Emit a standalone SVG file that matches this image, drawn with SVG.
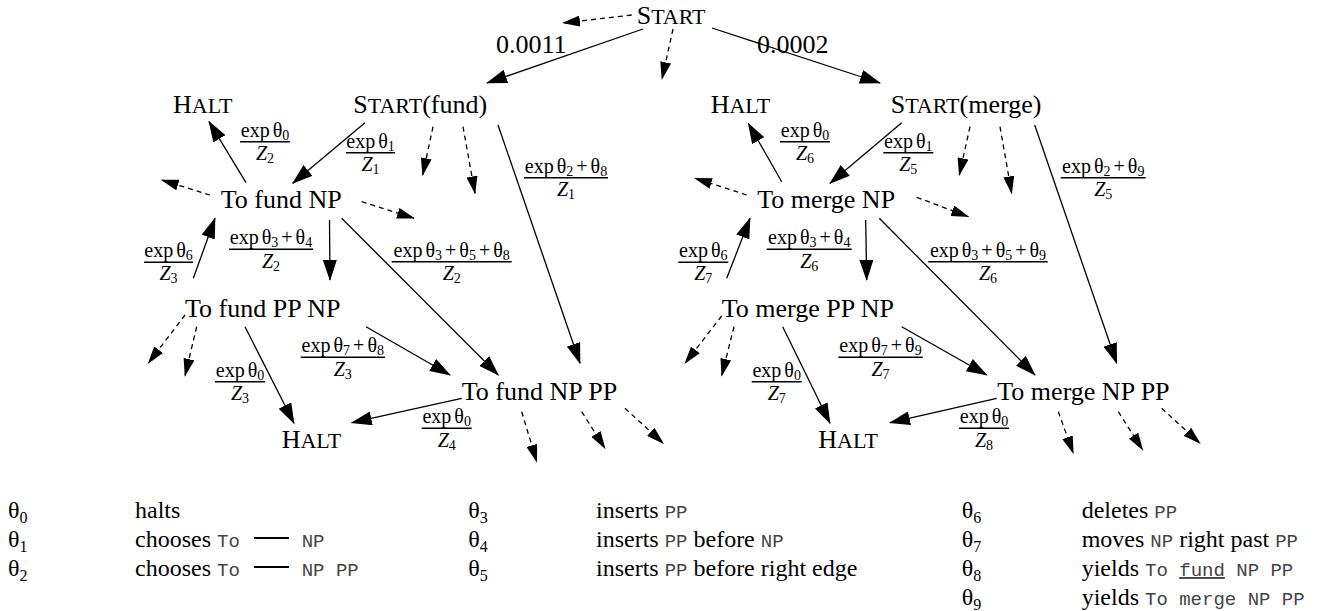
<svg xmlns="http://www.w3.org/2000/svg" width="1333" height="611" viewBox="0 0 1333 611">
<style>
text { font-family: "Liberation Serif", "Times New Roman", serif; fill: #000; }
.n { font-size: 26px; }
.sc { font-size: 22px; }
.f { font-size: 20px; text-anchor: middle; }
.s { font-size: 14px; }
.it { font-style: italic; }
.lg { font-size: 24px; }
.ls { font-size: 16px; }
.m { font-family: "Liberation Mono", "Courier New", monospace; font-size: 19px; fill: #444; }
.e { stroke: #000; stroke-width: 1.3; fill: none; marker-end: url(#ah); }
.d { stroke: #000; stroke-width: 1.3; fill: none; stroke-dasharray: 5 4; marker-end: url(#dh); }
.bar { stroke: #000; stroke-width: 1.6; }
</style>
<defs>
<marker id="ah" viewBox="0 0 21 14" markerWidth="21" markerHeight="14" refX="20" refY="7" orient="auto" markerUnits="userSpaceOnUse">
<path d="M0,0 L21,7 L0,14 z" fill="#000"/>
</marker>
<marker id="dh" viewBox="0 0 18 11" markerWidth="18" markerHeight="11" refX="17" refY="5.5" orient="auto" markerUnits="userSpaceOnUse">
<path d="M0,0 L18,5.5 L0,11 z" fill="#000"/>
</marker>
</defs>
<rect width="1333" height="611" fill="#fff"/>

<g id="connectors">
<line class="d" x1="631.7" y1="15" x2="563" y2="23"/>
<line class="e" x1="643" y1="29" x2="487" y2="83"/>
<line class="d" x1="673" y1="29" x2="662" y2="79"/>
<line class="e" x1="712" y1="28" x2="880" y2="83"/>
<line class="e" x1="246" y1="182.7" x2="209" y2="121.7"/>
<line class="e" x1="365" y1="122.7" x2="292.7" y2="183.3"/>
<line class="d" x1="433" y1="126.7" x2="422.7" y2="175"/>
<line class="d" x1="463" y1="126.7" x2="475" y2="193.3"/>
<line class="e" x1="498" y1="125" x2="580" y2="363.3"/>
<line class="d" x1="210" y1="195" x2="161.7" y2="180"/>
<line class="d" x1="361.7" y1="201.7" x2="414" y2="218.3"/>
<line class="e" x1="329.5" y1="220" x2="330" y2="280"/>
<line class="e" x1="341.7" y1="218.3" x2="498.3" y2="375"/>
<line class="e" x1="193.3" y1="278.3" x2="215" y2="218.3"/>
<line class="d" x1="185" y1="315" x2="148.3" y2="363.3"/>
<line class="d" x1="196.7" y1="326.7" x2="185" y2="375.7"/>
<line class="e" x1="245" y1="326.7" x2="294" y2="423.3"/>
<line class="e" x1="366" y1="326.7" x2="450" y2="375"/>
<line class="e" x1="461.7" y1="398.3" x2="351.7" y2="422.7"/>
<line class="d" x1="521.7" y1="411.7" x2="536.7" y2="461.7"/>
<line class="d" x1="581.7" y1="411.7" x2="605" y2="448.3"/>
<line class="d" x1="625" y1="408.3" x2="663.3" y2="443.3"/>
<line class="e" x1="781.7" y1="181.7" x2="748.3" y2="123.3"/>
<line class="e" x1="901.7" y1="122.7" x2="830" y2="183.3"/>
<line class="d" x1="970" y1="126.7" x2="959.3" y2="175"/>
<line class="d" x1="1000" y1="126.7" x2="1011.7" y2="193.3"/>
<line class="e" x1="1034.7" y1="125" x2="1116.7" y2="363.3"/>
<line class="d" x1="746.7" y1="195" x2="695" y2="178.3"/>
<line class="d" x1="916.7" y1="197.3" x2="968.3" y2="216.7"/>
<line class="e" x1="865.7" y1="220" x2="866.7" y2="280"/>
<line class="e" x1="879.3" y1="218.3" x2="1035" y2="375"/>
<line class="e" x1="726.7" y1="278.3" x2="750" y2="218.3"/>
<line class="d" x1="721.7" y1="316" x2="685" y2="363.3"/>
<line class="d" x1="734" y1="326.7" x2="721.7" y2="375.7"/>
<line class="e" x1="782.7" y1="326.7" x2="830" y2="423.3"/>
<line class="e" x1="901.7" y1="326.7" x2="986.7" y2="375"/>
<line class="e" x1="996.7" y1="398.3" x2="890" y2="422.7"/>
<line class="d" x1="1058.3" y1="411.7" x2="1073.3" y2="453.3"/>
<line class="d" x1="1118.3" y1="411.7" x2="1142.7" y2="450"/>
<line class="d" x1="1161.7" y1="408.3" x2="1200" y2="443.3"/>
</g>

<g id="edge-labels">
<text class="n" x="496" y="53" font-size="25">0.0011</text>
<text class="n" x="757" y="53" font-size="25">0.0002</text>
<g id="f1"><text class="f" x="265" y="136.5">exp<tspan dx="3">θ</tspan><tspan class="s" dy="3">0</tspan></text><line class="bar" x1="240" y1="141.7" x2="290" y2="141.7"/><text class="f" x="265" y="160"><tspan class="it">Z</tspan><tspan class="s" dy="3">2</tspan></text></g>
<g id="f2"><text class="f" x="370.5" y="147.5">exp<tspan dx="3">θ</tspan><tspan class="s" dy="3">1</tspan></text><line class="bar" x1="346" y1="152.7" x2="395" y2="152.7"/><text class="f" x="370.5" y="171"><tspan class="it">Z</tspan><tspan class="s" dy="3">1</tspan></text></g>
<g id="f3"><text class="f" x="566" y="172.5">exp<tspan dx="3">θ</tspan><tspan class="s" dy="3">2</tspan><tspan dx="3" dy="-3">+</tspan><tspan dx="3">θ</tspan><tspan class="s" dy="3">8</tspan></text><line class="bar" x1="524" y1="177.7" x2="608" y2="177.7"/><text class="f" x="566" y="196"><tspan class="it">Z</tspan><tspan class="s" dy="3">1</tspan></text></g>
<g id="f4"><text class="f" x="168.5" y="257">exp<tspan dx="3">θ</tspan><tspan class="s" dy="3">6</tspan></text><line class="bar" x1="144" y1="262.3" x2="193" y2="262.3"/><text class="f" x="168.5" y="280"><tspan class="it">Z</tspan><tspan class="s" dy="3">3</tspan></text></g>
<g id="f5"><text class="f" x="271" y="244">exp<tspan dx="3">θ</tspan><tspan class="s" dy="3">3</tspan><tspan dx="3" dy="-3">+</tspan><tspan dx="3">θ</tspan><tspan class="s" dy="3">4</tspan></text><line class="bar" x1="229" y1="249.3" x2="313" y2="249.3"/><text class="f" x="271" y="267.5"><tspan class="it">Z</tspan><tspan class="s" dy="3">2</tspan></text></g>
<g id="f6"><text class="f" x="451.7" y="256.5">exp<tspan dx="3">θ</tspan><tspan class="s" dy="3">3</tspan><tspan dx="3" dy="-3">+</tspan><tspan dx="3">θ</tspan><tspan class="s" dy="3">5</tspan><tspan dx="3" dy="-3">+</tspan><tspan dx="3">θ</tspan><tspan class="s" dy="3">8</tspan></text><line class="bar" x1="391.7" y1="261.7" x2="511.7" y2="261.7"/><text class="f" x="451.7" y="280"><tspan class="it">Z</tspan><tspan class="s" dy="3">2</tspan></text></g>
<g id="f7"><text class="f" x="240" y="376.5">exp<tspan dx="3">θ</tspan><tspan class="s" dy="3">0</tspan></text><line class="bar" x1="215" y1="381.7" x2="265" y2="381.7"/><text class="f" x="240" y="400"><tspan class="it">Z</tspan><tspan class="s" dy="3">3</tspan></text></g>
<g id="f8"><text class="f" x="342.8" y="352">exp<tspan dx="3">θ</tspan><tspan class="s" dy="3">7</tspan><tspan dx="3" dy="-3">+</tspan><tspan dx="3">θ</tspan><tspan class="s" dy="3">8</tspan></text><line class="bar" x1="300.7" y1="357.3" x2="385" y2="357.3"/><text class="f" x="342.8" y="375.5"><tspan class="it">Z</tspan><tspan class="s" dy="3">3</tspan></text></g>
<g id="f9"><text class="f" x="446.7" y="423">exp<tspan dx="3">θ</tspan><tspan class="s" dy="3">0</tspan></text><line class="bar" x1="421.7" y1="428.3" x2="471.7" y2="428.3"/><text class="f" x="446.7" y="446.5"><tspan class="it">Z</tspan><tspan class="s" dy="3">4</tspan></text></g>
<g id="g1"><text class="f" x="805" y="136.5">exp<tspan dx="3">θ</tspan><tspan class="s" dy="3">0</tspan></text><line class="bar" x1="780" y1="141.7" x2="830" y2="141.7"/><text class="f" x="805" y="160"><tspan class="it">Z</tspan><tspan class="s" dy="3">6</tspan></text></g>
<g id="g2"><text class="f" x="908.3" y="147.5">exp<tspan dx="3">θ</tspan><tspan class="s" dy="3">1</tspan></text><line class="bar" x1="883.3" y1="152.7" x2="933.3" y2="152.7"/><text class="f" x="908.3" y="171"><tspan class="it">Z</tspan><tspan class="s" dy="3">5</tspan></text></g>
<g id="g3"><text class="f" x="1103.2" y="172.5">exp<tspan dx="3">θ</tspan><tspan class="s" dy="3">2</tspan><tspan dx="3" dy="-3">+</tspan><tspan dx="3">θ</tspan><tspan class="s" dy="3">9</tspan></text><line class="bar" x1="1060.7" y1="177.7" x2="1145.7" y2="177.7"/><text class="f" x="1103.2" y="196"><tspan class="it">Z</tspan><tspan class="s" dy="3">5</tspan></text></g>
<g id="g4"><text class="f" x="703.3" y="257">exp<tspan dx="3">θ</tspan><tspan class="s" dy="3">6</tspan></text><line class="bar" x1="678.3" y1="262.3" x2="728.3" y2="262.3"/><text class="f" x="703.3" y="280"><tspan class="it">Z</tspan><tspan class="s" dy="3">7</tspan></text></g>
<g id="g5"><text class="f" x="809.2" y="244">exp<tspan dx="3">θ</tspan><tspan class="s" dy="3">3</tspan><tspan dx="3" dy="-3">+</tspan><tspan dx="3">θ</tspan><tspan class="s" dy="3">4</tspan></text><line class="bar" x1="766.7" y1="249.3" x2="851.7" y2="249.3"/><text class="f" x="809.2" y="267.5"><tspan class="it">Z</tspan><tspan class="s" dy="3">6</tspan></text></g>
<g id="g6"><text class="f" x="988" y="256.5">exp<tspan dx="3">θ</tspan><tspan class="s" dy="3">3</tspan><tspan dx="3" dy="-3">+</tspan><tspan dx="3">θ</tspan><tspan class="s" dy="3">5</tspan><tspan dx="3" dy="-3">+</tspan><tspan dx="3">θ</tspan><tspan class="s" dy="3">9</tspan></text><line class="bar" x1="928.3" y1="261.7" x2="1047.7" y2="261.7"/><text class="f" x="988" y="280"><tspan class="it">Z</tspan><tspan class="s" dy="3">6</tspan></text></g>
<g id="g7"><text class="f" x="776.7" y="376.5">exp<tspan dx="3">θ</tspan><tspan class="s" dy="3">0</tspan></text><line class="bar" x1="751.7" y1="381.7" x2="801.7" y2="381.7"/><text class="f" x="776.7" y="400"><tspan class="it">Z</tspan><tspan class="s" dy="3">7</tspan></text></g>
<g id="g8"><text class="f" x="880.5" y="352">exp<tspan dx="3">θ</tspan><tspan class="s" dy="3">7</tspan><tspan dx="3" dy="-3">+</tspan><tspan dx="3">θ</tspan><tspan class="s" dy="3">9</tspan></text><line class="bar" x1="838.3" y1="357.3" x2="922.7" y2="357.3"/><text class="f" x="880.5" y="375.5"><tspan class="it">Z</tspan><tspan class="s" dy="3">7</tspan></text></g>
<g id="g9"><text class="f" x="984" y="423">exp<tspan dx="3">θ</tspan><tspan class="s" dy="3">0</tspan></text><line class="bar" x1="959" y1="428.3" x2="1009" y2="428.3"/><text class="f" x="984" y="446.5"><tspan class="it">Z</tspan><tspan class="s" dy="3">8</tspan></text></g>
</g>

<g id="n-start"><text class="n" x="636.7" y="24">S<tspan class="sc">TART</tspan></text></g>
<g id="n-start-fund"><text class="n" x="353.3" y="113">S<tspan class="sc">TART</tspan>(fund)</text></g>
<g id="n-start-merge"><text class="n" x="890.7" y="113">S<tspan class="sc">TART</tspan>(merge)</text></g>
<g id="n-halt-fund-top"><text class="n" x="173" y="113.3">H<tspan class="sc">ALT</tspan></text></g>
<g id="n-halt-merge-top"><text class="n" x="710.7" y="113.3">H<tspan class="sc">ALT</tspan></text></g>
<g id="n-to-fund-np"><text class="n" x="220.7" y="208.3">To fund NP</text></g>
<g id="n-to-merge-np"><text class="n" x="757.3" y="208.3">To merge NP</text></g>
<g id="n-to-fund-pp-np"><text class="n" x="185" y="317.3">To fund PP NP</text></g>
<g id="n-to-merge-pp-np"><text class="n" x="721.7" y="317.3">To merge PP NP</text></g>
<g id="n-to-fund-np-pp"><text class="n" x="461.7" y="400">To fund NP PP</text></g>
<g id="n-to-merge-np-pp"><text class="n" x="997.3" y="400">To merge NP PP</text></g>
<g id="n-halt-fund-bot"><text class="n" x="281.7" y="448.3">H<tspan class="sc">ALT</tspan></text></g>
<g id="n-halt-merge-bot"><text class="n" x="818.3" y="448.3">H<tspan class="sc">ALT</tspan></text></g>

<g id="legend">
<text class="lg" x="8" y="518">θ<tspan class="ls" dy="5">0</tspan></text>
<text class="lg" x="135" y="518">halts</text>
<text class="lg" x="8" y="547">θ<tspan class="ls" dy="5">1</tspan></text>
<text class="lg" x="135" y="547">chooses <tspan class="m">To</tspan></text>
<line x1="254" y1="538" x2="289" y2="538" stroke="#000" stroke-width="2"/>
<text class="m" x="301.7" y="547">NP</text>
<text class="lg" x="8" y="576">θ<tspan class="ls" dy="5">2</tspan></text>
<text class="lg" x="135" y="576">chooses <tspan class="m">To</tspan></text>
<line x1="254" y1="567" x2="289" y2="567" stroke="#000" stroke-width="2"/>
<text class="m" x="301.7" y="576">NP PP</text>

<text class="lg" x="468.3" y="518">θ<tspan class="ls" dy="5">3</tspan></text>
<text class="lg" x="596" y="518">inserts <tspan class="m">PP</tspan></text>
<text class="lg" x="468.3" y="547">θ<tspan class="ls" dy="5">4</tspan></text>
<text class="lg" x="596" y="547">inserts <tspan class="m">PP</tspan> before <tspan class="m">NP</tspan></text>
<text class="lg" x="468.3" y="576">θ<tspan class="ls" dy="5">5</tspan></text>
<text class="lg" x="596" y="576">inserts <tspan class="m">PP</tspan> before right edge</text>

<text class="lg" x="961.7" y="518">θ<tspan class="ls" dy="5">6</tspan></text>
<text class="lg" x="1081.7" y="518">deletes <tspan class="m">PP</tspan></text>
<text class="lg" x="961.7" y="547">θ<tspan class="ls" dy="5">7</tspan></text>
<text class="lg" x="1081.7" y="547">moves <tspan class="m">NP</tspan> right past <tspan class="m">PP</tspan></text>
<text class="lg" x="961.7" y="576">θ<tspan class="ls" dy="5">8</tspan></text>
<text class="lg" x="1081.7" y="576">yields <tspan class="m">To <tspan text-decoration="underline">fund</tspan> NP PP</tspan></text>
<text class="lg" x="961.7" y="605">θ<tspan class="ls" dy="5">9</tspan></text>
<text class="lg" x="1081.7" y="605">yields <tspan class="m">To merge NP PP</tspan></text>
</g>
</svg>
